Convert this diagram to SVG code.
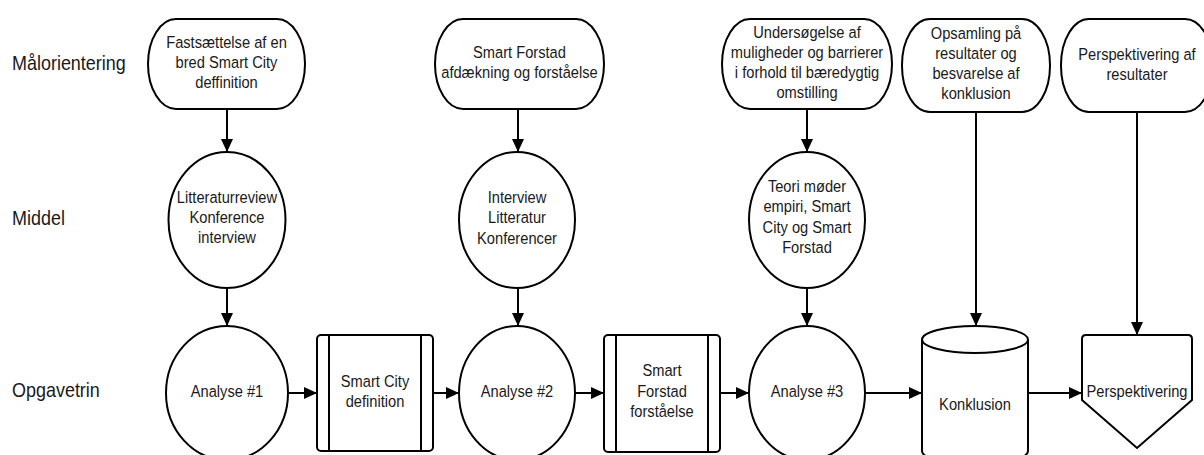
<svg xmlns="http://www.w3.org/2000/svg" width="1204" height="455" viewBox="0 0 1204 455">
  <style>
    .shape { fill: #ffffff; stroke: #000000; stroke-width: 2; }
    .edge { fill: none; stroke: #000000; stroke-width: 2; }
    .txt { font-family: "Liberation Sans", Arial, sans-serif; font-size: 16.3px; fill: #1a1a1a; text-anchor: middle; }
    .lane { font-family: "Liberation Sans", Arial, sans-serif; font-size: 20.3px; fill: #1a1a1a; }
  </style>
  <defs>
    <marker id="arrow" viewBox="0 0 13 12" refX="13" refY="6" markerWidth="13" markerHeight="12" markerUnits="userSpaceOnUse" orient="auto">
      <path d="M0,0 L13,6 L0,12 z" fill="#000000"/>
    </marker>
  </defs>
  <rect width="1204" height="455" fill="#ffffff"/>

  <!-- lane labels (narrowed lettering, left edge kept at x=12) -->
  <g id="lanes" transform="matrix(0.885 0 0 1 1.38 0)">
    <text class="lane" x="12" y="70">Målorientering</text>
    <text class="lane" x="12" y="225">Middel</text>
    <text class="lane" x="12" y="397">Opgavetrin</text>
  </g>

  <!-- connectors -->
  <g id="connectors">
    <line class="edge" x1="227" y1="110" x2="227" y2="152" marker-end="url(#arrow)"/>
    <line class="edge" x1="227" y1="288" x2="227" y2="326" marker-end="url(#arrow)"/>
    <line class="edge" x1="518" y1="110" x2="518" y2="152" marker-end="url(#arrow)"/>
    <line class="edge" x1="518" y1="288" x2="518" y2="326" marker-end="url(#arrow)"/>
    <line class="edge" x1="807" y1="110" x2="807" y2="152" marker-end="url(#arrow)"/>
    <line class="edge" x1="807" y1="288" x2="807" y2="326" marker-end="url(#arrow)"/>
    <line class="edge" x1="976" y1="112" x2="976" y2="326" marker-end="url(#arrow)"/>
    <line class="edge" x1="1137" y1="112" x2="1137" y2="335" marker-end="url(#arrow)"/>
    <line class="edge" x1="288" y1="393" x2="317" y2="393" marker-end="url(#arrow)"/>
    <line class="edge" x1="433" y1="393" x2="459" y2="393" marker-end="url(#arrow)"/>
    <line class="edge" x1="576" y1="393" x2="604" y2="393" marker-end="url(#arrow)"/>
    <line class="edge" x1="720" y1="393" x2="749" y2="393" marker-end="url(#arrow)"/>
    <line class="edge" x1="865" y1="393" x2="922" y2="393" marker-end="url(#arrow)"/>
    <line class="edge" x1="1028" y1="393" x2="1082" y2="393" marker-end="url(#arrow)"/>
  </g>

  <!-- goal row: labels are narrowed about each node's centre line -->
  <g id="goal1">
    <rect class="shape" x="148" y="19" width="157" height="90" rx="28" ry="45"/>
    <g transform="matrix(0.9 0 0 1 22.65 0)">
      <text class="txt" x="226.5" y="48">Fastsættelse af en</text>
      <text class="txt" x="226.5" y="68">bred Smart City</text>
      <text class="txt" x="226.5" y="88">deffinition</text>
    </g>
  </g>
  <g id="goal2">
    <rect class="shape" x="435" y="19" width="169" height="90" rx="28" ry="45"/>
    <g transform="matrix(0.9 0 0 1 51.95 0)">
      <text class="txt" x="519.5" y="58">Smart Forstad</text>
      <text class="txt" x="519.5" y="78">afdækning og forståelse</text>
    </g>
  </g>
  <g id="goal3">
    <rect class="shape" x="722" y="19" width="170" height="90" rx="28" ry="45"/>
    <g transform="matrix(0.9 0 0 1 80.7 0)">
      <text class="txt" x="807" y="38">Undersøgelse af</text>
      <text class="txt" x="807" y="58">muligheder og barrierer</text>
      <text class="txt" x="807" y="78">i forhold til bæredygtig</text>
      <text class="txt" x="807" y="98">omstilling</text>
    </g>
  </g>
  <g id="goal4">
    <rect class="shape" x="902" y="19" width="148" height="93" rx="28" ry="46"/>
    <g transform="matrix(0.9 0 0 1 97.6 0)">
      <text class="txt" x="976" y="39">Opsamling på</text>
      <text class="txt" x="976" y="59">resultater og</text>
      <text class="txt" x="976" y="79">besvarelse af</text>
      <text class="txt" x="976" y="99">konklusion</text>
    </g>
  </g>
  <g id="goal5">
    <rect class="shape" x="1061" y="19" width="152" height="93" rx="28" ry="46"/>
    <g transform="matrix(0.9 0 0 1 113.7 0)">
      <text class="txt" x="1137" y="60">Perspektivering af</text>
      <text class="txt" x="1137" y="80">resultater</text>
    </g>
  </g>

  <!-- means row -->
  <g id="means1">
    <ellipse class="shape" cx="227" cy="220" rx="58.5" ry="68"/>
    <g transform="matrix(0.9 0 0 1 22.7 0)">
      <text class="txt" x="227" y="203">Litteraturreview</text>
      <text class="txt" x="227" y="223">Konference</text>
      <text class="txt" x="227" y="243">interview</text>
    </g>
  </g>
  <g id="means2">
    <ellipse class="shape" cx="517" cy="220" rx="58" ry="68"/>
    <g transform="matrix(0.9 0 0 1 51.7 0)">
      <text class="txt" x="517" y="203">Interview</text>
      <text class="txt" x="517" y="223">Litteratur</text>
      <text class="txt" x="517" y="244">Konferencer</text>
    </g>
  </g>
  <g id="means3">
    <ellipse class="shape" cx="807" cy="220" rx="58" ry="68"/>
    <g transform="matrix(0.9 0 0 1 80.7 0)">
      <text class="txt" x="807" y="192">Teori møder</text>
      <text class="txt" x="807" y="212.5">empiri, Smart</text>
      <text class="txt" x="807" y="233">City og Smart</text>
      <text class="txt" x="807" y="253.5">Forstad</text>
    </g>
  </g>

  <!-- task row -->
  <g id="analyse1">
    <ellipse class="shape" cx="227" cy="393" rx="61" ry="67"/>
    <text class="txt" x="227" y="397" transform="matrix(0.9 0 0 1 22.7 0)">Analyse #1</text>
  </g>
  <g id="definition">
    <rect class="shape" x="317" y="335" width="116" height="116" rx="4"/>
    <line class="edge" x1="329" y1="335" x2="329" y2="451"/>
    <line class="edge" x1="421" y1="335" x2="421" y2="451"/>
    <g transform="matrix(0.9 0 0 1 37.5 0)">
      <text class="txt" x="375" y="387">Smart City</text>
      <text class="txt" x="375" y="407">definition</text>
    </g>
  </g>
  <g id="analyse2">
    <ellipse class="shape" cx="517" cy="393" rx="58" ry="67"/>
    <text class="txt" x="517" y="397" transform="matrix(0.9 0 0 1 51.7 0)">Analyse #2</text>
  </g>
  <g id="forstaaelse">
    <rect class="shape" x="604" y="335" width="116" height="117" rx="4"/>
    <line class="edge" x1="616" y1="335" x2="616" y2="452"/>
    <line class="edge" x1="708" y1="335" x2="708" y2="452"/>
    <g transform="matrix(0.9 0 0 1 66.2 0)">
      <text class="txt" x="662" y="376">Smart</text>
      <text class="txt" x="662" y="397">Forstad</text>
      <text class="txt" x="662" y="417">forståelse</text>
    </g>
  </g>
  <g id="analyse3">
    <ellipse class="shape" cx="807" cy="393" rx="58" ry="67"/>
    <text class="txt" x="807" y="397" transform="matrix(0.9 0 0 1 80.7 0)">Analyse #3</text>
  </g>
  <g id="konklusion">
    <path class="shape" d="M922,339.5 L922,451 A53,13.5 0 0 0 1028,451 L1028,339.5 A53,13.5 0 0 0 922,339.5 Z"/>
    <path class="edge" d="M922,339.5 A53,13.5 0 0 0 1028,339.5"/>
    <text class="txt" x="975" y="410" transform="matrix(0.9 0 0 1 97.5 0)">Konklusion</text>
  </g>
  <g id="perspektivering">
    <path class="shape" d="M1086,335 L1188,335 Q1192,335 1192,339 L1192,400 L1137,448 L1082,400 L1082,339 Q1082,335 1086,335 Z"/>
    <text class="txt" x="1137" y="397" transform="matrix(0.9 0 0 1 113.7 0)">Perspektivering</text>
  </g>
</svg>
